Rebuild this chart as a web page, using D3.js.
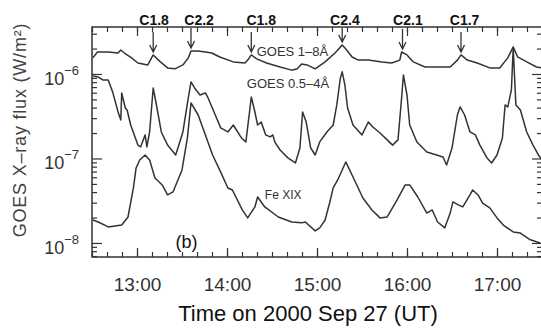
<!DOCTYPE html>
<html>
<head>
<meta charset="utf-8">
<script src="https://cdn.jsdelivr.net/npm/d3@7"></script>
<style>
  body { margin: 0; background: #fff; }
  svg { display: block; font-family: "Liberation Sans", Arial, sans-serif; }
</style>
</head>
<body>
<div id="chart"></div>
<script>
// times are decimal hours UT on 2000 Sep 27, fluxes in W/m^2
const hourTicks = [13, 14, 15, 16, 17];
const decadeTicks = [1e-8, 1e-7, 1e-6];

const goesLongT = [12.51, 12.56, 12.68, 12.79, 12.82, 12.86, 12.94, 13.01, 13.12, 13.18, 13.26, 13.34, 13.42, 13.51, 13.57, 13.60,
  13.68, 13.76, 13.83, 13.92, 14.07, 14.20, 14.23, 14.27, 14.33, 14.44, 14.59, 14.72, 14.78, 14.83, 14.89, 14.98,
  15.09, 15.20, 15.28, 15.33, 15.39, 15.46, 15.57, 15.72, 15.83, 15.92, 15.94, 16.00, 16.07, 16.20, 16.39, 16.48,
  16.56, 16.60, 16.67, 16.78, 16.92, 17.03, 17.12, 17.18, 17.23, 17.33, 17.44, 17.50];
const goesLong = [1.55e-6, 1.82e-6, 1.82e-6, 1.77e-6, 1.92e-6, 1.77e-6, 1.55e-6, 1.35e-6, 1.28e-6, 1.68e-6, 1.39e-6, 1.18e-6, 1.15e-6, 1.28e-6, 1.55e-6, 1.87e-6,
  1.87e-6, 1.82e-6, 1.77e-6, 1.59e-6, 1.39e-6, 1.35e-6, 1.46e-6, 1.68e-6, 1.51e-6, 1.35e-6, 1.21e-6, 1.11e-6, 1.15e-6, 1.31e-6, 1.28e-6, 1.15e-6,
  1.39e-6, 1.77e-6, 2.20e-6, 1.92e-6, 1.59e-6, 1.46e-6, 1.46e-6, 1.39e-6, 1.35e-6, 1.46e-6, 1.82e-6, 1.68e-6, 1.39e-6, 1.21e-6, 1.21e-6, 1.21e-6,
  1.46e-6, 1.68e-6, 1.46e-6, 1.35e-6, 1.18e-6, 1.18e-6, 1.55e-6, 2.09e-6, 1.59e-6, 1.39e-6, 1.21e-6, 1.18e-6];

const goesShortT = [12.51, 12.57, 12.62, 12.68, 12.73, 12.79, 12.82, 12.83, 12.87, 12.89, 12.93, 13.01, 13.04, 13.09, 13.11, 13.14,
  13.18, 13.21, 13.27, 13.34, 13.43, 13.51, 13.57, 13.60, 13.64, 13.70, 13.76, 13.79, 13.87, 13.93, 14.01, 14.07,
  14.16, 14.21, 14.27, 14.31, 14.34, 14.38, 14.43, 14.48, 14.51, 14.53, 14.59, 14.68, 14.76, 14.81, 14.84, 14.88,
  14.93, 14.98, 15.03, 15.11, 15.18, 15.22, 15.26, 15.28, 15.31, 15.34, 15.40, 15.50, 15.57, 15.62, 15.70, 15.78,
  15.84, 15.90, 15.94, 15.96, 16.00, 16.03, 16.11, 16.22, 16.33, 16.40, 16.44, 16.50, 16.56, 16.59, 16.64, 16.70,
  16.76, 16.81, 16.89, 16.94, 17.00, 17.06, 17.09, 17.12, 17.16, 17.18, 17.21, 17.26, 17.33, 17.40, 17.46, 17.50];
const goesShort = [9.5e-7, 9.2e-7, 8.5e-7, 8.5e-7, 6.1e-7, 3.55e-7, 2.86e-7, 5.96e-7, 3.96e-7, 3.75e-7, 2.49e-7, 1.44e-7, 1.37e-7, 1.90e-7, 1.37e-7, 2.06e-7,
  6.83e-7, 4.66e-7, 2.06e-7, 1.44e-7, 1.10e-7, 2.06e-7, 5.20e-7, 8.04e-7, 6.83e-7, 5.64e-7, 5.96e-7, 5.20e-7, 3.27e-7, 2.30e-7, 2.06e-7, 2.49e-7,
  1.75e-7, 1.57e-7, 5.34e-7, 3.55e-7, 2.49e-7, 2.70e-7, 1.90e-7, 1.80e-7, 1.90e-7, 1.57e-7, 1.26e-7, 1.01e-7, 8.85e-8, 1.33e-7, 3.55e-7, 2.70e-7,
  1.33e-7, 1.10e-7, 1.57e-7, 2.06e-7, 2.49e-7, 4.30e-7, 8.97e-7, 1.06e-6, 7.41e-7, 3.96e-7, 2.49e-7, 1.90e-7, 2.70e-7, 2.36e-7, 2.00e-7, 1.66e-7,
  1.44e-7, 1.66e-7, 5.20e-7, 9.73e-7, 5.64e-7, 2.49e-7, 1.57e-7, 1.19e-7, 1.10e-7, 1.04e-7, 8.38e-8, 1.33e-7, 3.27e-7, 4.07e-7, 3.27e-7, 2.06e-7,
  1.90e-7, 1.44e-7, 1.01e-7, 8.85e-8, 1.10e-7, 1.75e-7, 4.30e-7, 4.07e-7, 6.47e-7, 2.03e-6, 4.30e-7, 3.75e-7, 2.06e-7, 1.44e-7, 1.10e-7, 9.6e-8];

const feXIXT = [12.51, 12.57, 12.68, 12.83, 12.90, 12.96, 12.99, 13.03, 13.09, 13.14, 13.20, 13.28, 13.34, 13.40, 13.50, 13.56,
  13.60, 13.68, 13.76, 13.84, 13.93, 14.01, 14.06, 14.17, 14.23, 14.31, 14.34, 14.42, 14.57, 14.72, 14.83, 14.87,
  14.98, 15.03, 15.09, 15.14, 15.18, 15.23, 15.32, 15.40, 15.51, 15.61, 15.70, 15.78, 15.89, 15.98, 16.03, 16.12,
  16.22, 16.28, 16.34, 16.42, 16.48, 16.51, 16.57, 16.62, 16.70, 16.73, 16.79, 16.84, 16.92, 17.00, 17.07, 17.18,
  17.26, 17.37, 17.48];
const feXIX = [1.87e-8, 1.77e-8, 1.55e-8, 1.63e-8, 2.03e-8, 4.48e-8, 7.72e-8, 9.6e-8, 1.10e-7, 9.6e-8, 5.88e-8, 4.86e-8, 3.70e-8, 4.02e-8, 7.31e-8, 1.75e-7,
  4.54e-7, 3.27e-7, 1.90e-7, 1.10e-7, 6.90e-8, 4.48e-8, 4.24e-8, 2.46e-8, 1.98e-8, 2.67e-8, 3.50e-8, 2.67e-8, 2.03e-8, 1.77e-8, 1.73e-8, 1.77e-8,
  1.39e-8, 1.51e-8, 1.87e-8, 2.97e-8, 4.48e-8, 5.57e-8, 9.10e-8, 6.04e-8, 3.41e-8, 2.46e-8, 1.98e-8, 2.03e-8, 3.23e-8, 4.86e-8, 4.86e-8, 3.50e-8,
  2.26e-8, 2.46e-8, 1.77e-8, 1.51e-8, 2.26e-8, 3.06e-8, 2.82e-8, 2.67e-8, 3.70e-8, 4.24e-8, 3.70e-8, 2.97e-8, 2.60e-8, 1.98e-8, 1.63e-8, 1.35e-8,
  1.31e-8, 1.09e-8, 1.00e-8];

// flare arrows (time, peak flux of 1-8 A curve) and class labels
const flareT = [13.18, 13.60, 14.27, 15.28, 15.95, 16.60];
const flarePeak = [1.68e-6, 1.87e-6, 1.68e-6, 2.20e-6, 1.82e-6, 1.68e-6];
const flareClass = ["C1.8", "C2.2", "C1.8", "C2.4", "C2.1", "C1.7"];
const flareLabelT = [13.19, 13.69, 14.38, 15.31, 16.01, 16.64];

const W = 541, H = 335;
const margin = { top: 27, right: -1, bottom: 78, left: 92 };
const width = W - margin.left - margin.right;
const height = H - margin.top - margin.bottom;
const ink = "#333";

const svg = d3.select("#chart").append("svg")
  .attr("width", W)
  .attr("height", H);

const g = svg.append("g")
  .attr("transform", `translate(${margin.left},${margin.top})`);

const x = d3.scaleLinear().domain([12.5, 17.5]).range([0, width]);
const y = d3.scaleLog().domain([Math.pow(10, -8.166), Math.pow(10, -5.444)]).range([height, 0]);

const minorX = d3.range(12.5, 17.5001, 1 / 6);
const minorY = [];
[-9, -8, -7, -6].forEach(e => {
  for (let k = 2; k <= 9; k++) {
    const v = k * Math.pow(10, e);
    if (v >= y.domain()[0] && v <= y.domain()[1]) minorY.push(v);
  }
});

function tickStyle(sel) {
  sel.select(".domain").remove();
  sel.selectAll("line").attr("stroke", ink).attr("stroke-width", 1.2);
}

// bottom axis
g.append("g").attr("transform", `translate(0,${height})`)
  .call(d3.axisBottom(x).tickValues(minorX).tickSize(-5).tickFormat(""))
  .call(tickStyle);
g.append("g").attr("transform", `translate(0,${height})`)
  .call(d3.axisBottom(x).tickValues(hourTicks).tickSize(-9).tickPadding(21).tickFormat(d => d + ":00"))
  .call(tickStyle)
  .selectAll("text")
  .attr("fill", ink)
  .style("font-size", "19px");

// top axis
g.append("g")
  .call(d3.axisTop(x).tickValues(minorX).tickSize(-5).tickFormat(""))
  .call(tickStyle);
g.append("g")
  .call(d3.axisTop(x).tickValues(hourTicks).tickSize(-9).tickFormat(""))
  .call(tickStyle);

// left / right axes
g.append("g")
  .call(d3.axisLeft(y).tickValues(minorY).tickSize(-5).tickFormat(""))
  .call(tickStyle);
g.append("g")
  .call(d3.axisLeft(y).tickValues(decadeTicks).tickSize(-10).tickFormat(""))
  .call(tickStyle);
g.append("g").attr("transform", `translate(${width},0)`)
  .call(d3.axisRight(y).tickValues(minorY).tickSize(-5).tickFormat(""))
  .call(tickStyle);
g.append("g").attr("transform", `translate(${width},0)`)
  .call(d3.axisRight(y).tickValues(decadeTicks).tickSize(-10).tickFormat(""))
  .call(tickStyle);

// decade labels 10^-n
const yl = g.selectAll(".ylab").data(decadeTicks).enter().append("text")
  .attr("class", "ylab")
  .attr("x", -13)
  .attr("y", d => y(d) + 11)
  .attr("text-anchor", "end")
  .attr("fill", ink)
  .style("font-size", "18px");
yl.append("tspan").text("10");
yl.append("tspan")
  .attr("dy", -10)
  .style("font-size", "13px")
  .text(d => "\u2212" + Math.round(-Math.log10(d)));

// frame
g.append("rect")
  .attr("width", width).attr("height", height)
  .attr("fill", "none").attr("stroke", ink).attr("stroke-width", 1.5);

// curves
const line = d3.line()
  .x(d => x(d[0]))
  .y(d => y(d[1]));

[[goesLongT, goesLong], [goesShortT, goesShort], [feXIXT, feXIX]].forEach(([ts, vs]) => {
  g.append("path")
    .datum(d3.zip(ts, vs))
    .attr("fill", "none")
    .attr("stroke", ink)
    .attr("stroke-width", 1.5)
    .attr("stroke-linejoin", "round")
    .attr("d", line);
});

// flare arrows
flareT.forEach((t, i) => {
  const px = x(t);
  const tip = y(flarePeak[i]) - 3;
  const top = Math.max(1, tip - 20);
  g.append("path")
    .attr("d", `M${px},${top}V${tip}M${px - 3.5},${tip - 7}L${px},${tip}L${px + 3.5},${tip - 7}`)
    .attr("fill", "none")
    .attr("stroke", ink)
    .attr("stroke-width", 1.3);
});

g.selectAll(".cls").data(flareClass).enter().append("text")
  .attr("class", "cls")
  .attr("x", (d, i) => x(flareLabelT[i]))
  .attr("y", -2)
  .attr("text-anchor", "middle")
  .attr("fill", "#111")
  .style("font-family", "'Liberation Sans Narrow', 'Arial Narrow', 'Liberation Sans', sans-serif")
  .style("font-weight", "bold")
  .style("font-size", "14px")
  .text(d => d);

// curve labels
const labels = [
  { t: 14.33, v: 1.65e-6, s: "GOES 1\u20138\u00c5", fs: 13 },
  { t: 14.22, v: 6.8e-7, s: "GOES 0.5\u20134\u00c5", fs: 13 },
  { t: 14.42, v: 3.3e-8, s: "Fe XIX", fs: 12 }
];
labels.forEach(l => {
  g.append("text")
    .attr("x", x(l.t))
    .attr("y", y(l.v))
    .attr("fill", ink)
    .style("font-size", l.fs + "px")
    .text(l.s);
});

g.append("text")
  .attr("x", x(13.55))
  .attr("y", y(8.8e-9))
  .attr("text-anchor", "middle")
  .attr("fill", "#111")
  .style("font-size", "18px")
  .text("(b)");

// axis titles
svg.append("text")
  .attr("x", 308)
  .attr("y", 321)
  .attr("text-anchor", "middle")
  .attr("fill", "#111")
  .style("font-size", "22px")
  .text("Time on 2000 Sep 27  (UT)");

svg.append("text")
  .attr("transform", "translate(26,130) rotate(-90)")
  .attr("text-anchor", "middle")
  .attr("fill", "#444")
  .style("font-size", "18px")
  .style("letter-spacing", "0.8px")
  .text("GOES X\u2013ray flux (W/m\u00b2)");
</script>
</body>
</html>
